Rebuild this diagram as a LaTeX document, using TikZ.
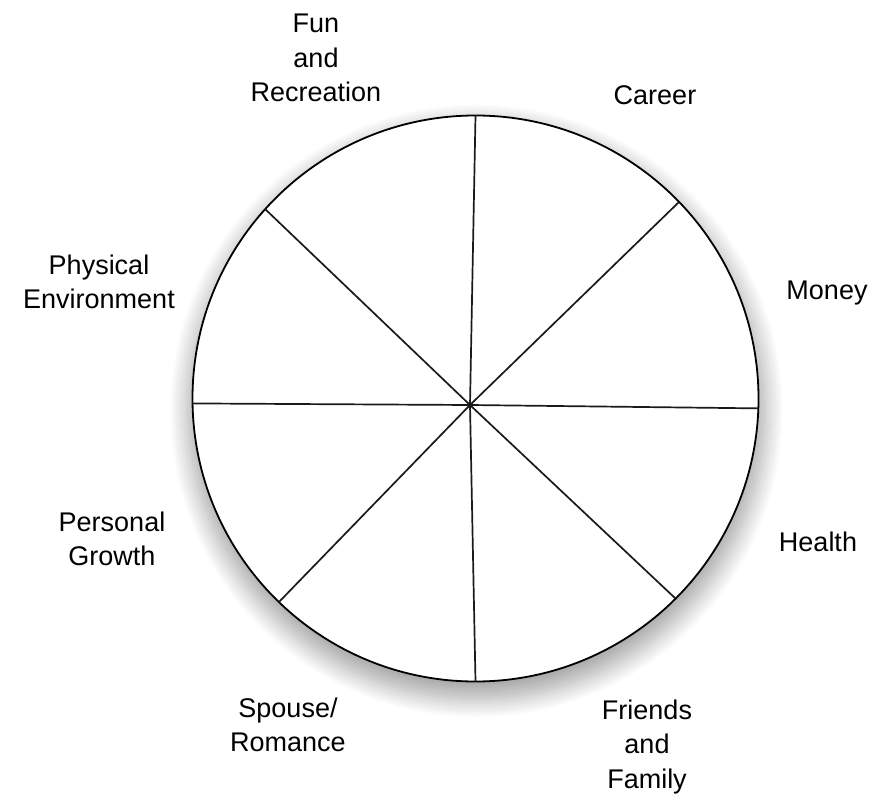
\documentclass[tikz,border=0pt]{standalone}
\usepackage{fontspec}
\setmainfont{Liberation Sans}
\usetikzlibrary{positioning,calc,shadows.blur}
\definecolor{spokegray}{HTML}{1A1A1A}

\begin{document}
\begin{tikzpicture}[x=1pt,y=-1pt,
      area/.style={align=center,font=\fontsize{27}{34.5}\selectfont,inner sep=0pt},
      rim/.style={circle,draw=black,line width=1.8pt,fill=white,minimum size=566pt,inner sep=0pt,outer sep=0pt,
        blur shadow={shadow xshift=1pt,shadow yshift=-12pt,shadow scale=1.02,shadow blur radius=18pt,shadow opacity=35,shadow blur steps=20}},
      spoke/.style={draw=spokegray,line width=1.7pt}]
    \useasboundingbox (0,0) rectangle (876,797);
    \node[rim] (wheel) at (475.5,398.5) {};
    \coordinate (hub) at (470,405);
    \foreach \ang in {90.9,44.4,-2.2,-45,-90.9,-134.9,-179.3,138.9}
      \draw[spoke] (hub) -- (wheel.\ang);
    \node[area] (fun) at (316,58) {Fun\\and\\Recreation};
    \node[area] (career) at (655,95) {Career};
    \node[area] (money) at (827,293) {Money};
    \node[area] (physical) at (99,282) {Physical\\Environment};
    \node[area] (health) at (818,542) {Health};
    \node[area] (personal) at (112,539) {Personal\\Growth};
    \node[area] (spouse) at (288,725) {Spouse/\\Romance};
    \node[area] (friends) at (647,747) {Friends\\and\\Family};
  \end{tikzpicture}
\end{document}
